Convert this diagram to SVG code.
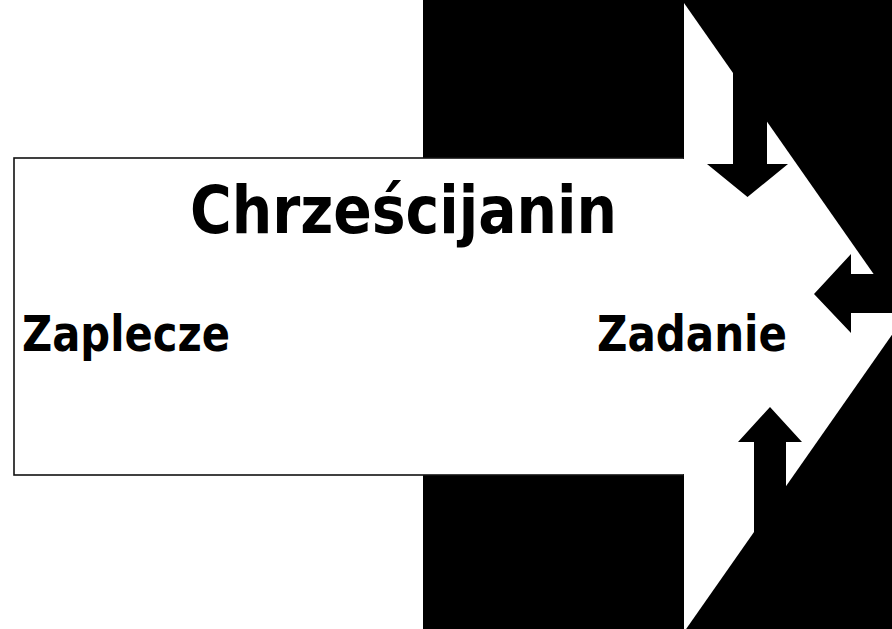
<svg xmlns="http://www.w3.org/2000/svg" width="892" height="629" viewBox="0 0 892 629">
<style>
.t{font-family:"DejaVu Sans","Liberation Sans",sans-serif;font-weight:bold;fill:#000}
.blk{fill:#000}
</style>
<rect width="892" height="629" fill="#fff"/>
<g id="background"><rect class="blk" x="423" y="0" width="469" height="629"/></g>
<g id="big-arrow">
<rect x="14" y="158" width="670" height="317" fill="#fff" stroke="#111" stroke-width="1.6"/>
<polygon points="684,3 904,317.5 684,632" fill="#fff"/>
<rect x="683" y="159" width="3" height="315" fill="#fff"/>
</g>
<g id="connectors">
<polygon class="blk" points="733,0 767,0 767,164 788,164 747.5,197 707,164 733,164"/>
<polygon class="blk" points="892,274 851,274 851,254 814,294 851,333 851,313 892,313"/>
<polygon class="blk" points="754,629 754,442 738,442 770,407 802,442 786,442 786,629"/>
</g>
<g id="title"><text class="t" x="190" y="233" font-size="66" textLength="427" lengthAdjust="spacingAndGlyphs">Chrześcijanin</text></g>
<g id="zaplecze"><text class="t" x="22" y="351" font-size="49" textLength="208" lengthAdjust="spacingAndGlyphs">Zaplecze</text></g>
<g id="zadanie"><text class="t" x="597" y="351" font-size="49" textLength="190" lengthAdjust="spacingAndGlyphs">Zadanie</text></g>
</svg>
